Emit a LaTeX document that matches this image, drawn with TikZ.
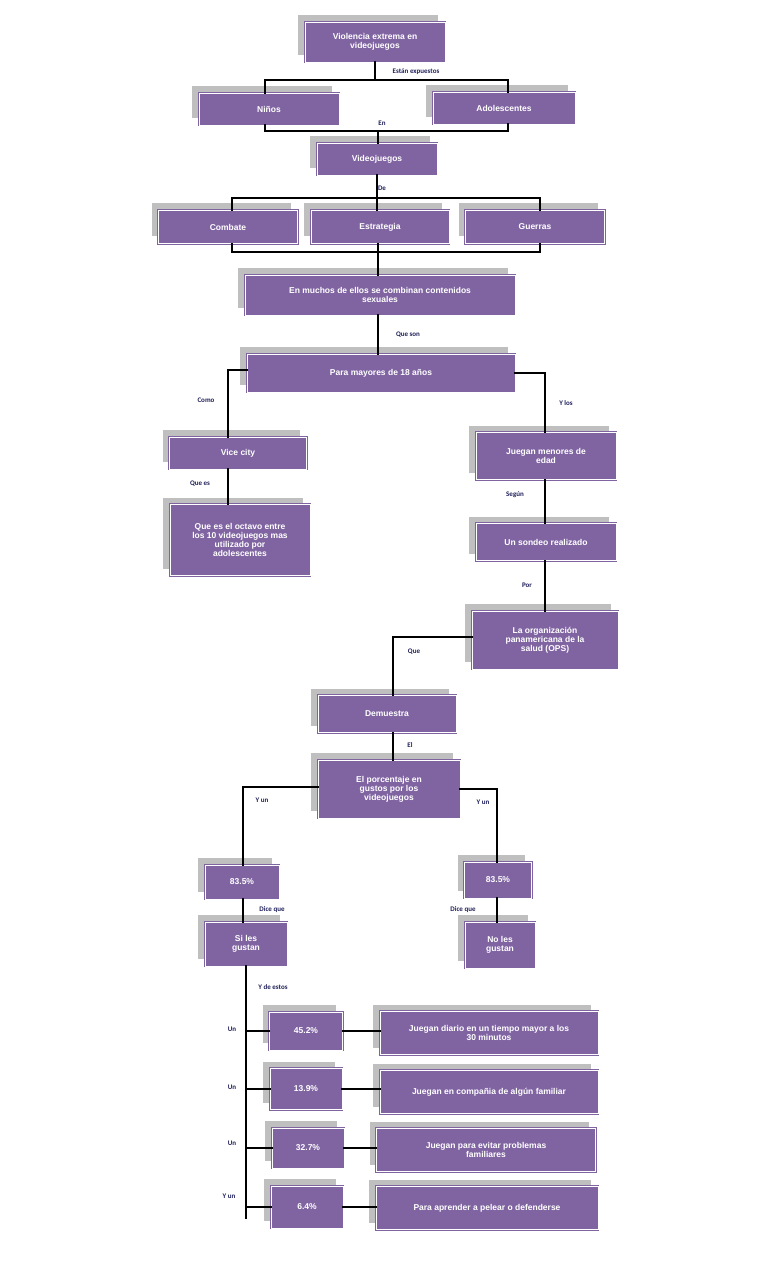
\documentclass[tikz,border=0pt]{standalone}
\usepackage{fontspec}
\setmainfont{Liberation Sans}
\newfontfamily\lblfont{Carlito}
\usetikzlibrary{shadows}
\definecolor{boxfill}{HTML}{8064A2}
\definecolor{lblcol}{HTML}{1F1F5A}
\begin{document}
\begin{tikzpicture}[x=1pt, y=-1pt]
        \tikzstyle{box}=[draw=boxfill, double=white, double distance=0.9pt, line width=0.9pt,
            fill=boxfill, text=white, font=\bfseries\fontsize{8.5}{9}\selectfont, align=center,
            inner sep=2pt, general shadow={fill=black!25, shadow xshift=-7pt, shadow yshift=7pt}]
        \tikzstyle{lbl}=[font=\lblfont\bfseries\fontsize{7}{8}\selectfont, text=lblcol, inner sep=1pt]
        \tikzstyle{link}=[line width=2.6pt, line cap=rect]
        \useasboundingbox (0,0) rectangle (768,1265);

        % boxes
        \node[box, minimum width=140pt, minimum height=40pt] (viol) at (375,42) {Violencia extrema en\\videojuegos};
        \node[box, minimum width=140pt, minimum height=32pt] (ninos) at (269,109) {Niños};
        \node[box, minimum width=142pt, minimum height=32pt] (adol) at (504,108) {Adolescentes};
        \node[box, minimum width=120pt, minimum height=32pt] (video) at (377,159) {Videojuegos};
        \node[box, minimum width=139pt, minimum height=33pt] (combate) at (228,227) {Combate};
        \node[box, minimum width=138pt, minimum height=33pt] (estrat) at (380,227) {Estrategia};
        \node[box, minimum width=139pt, minimum height=33pt] (guerras) at (535,227) {Guerras};
        \node[box, minimum width=270pt, minimum height=40pt] (muchos) at (380,295) {En muchos de ellos se combinan contenidos\\sexuales};
        \node[box, minimum width=268pt, minimum height=38pt] (mayores) at (381,373) {Para mayores de 18 años};
        \node[box, minimum width=137pt, minimum height=32pt] (vice) at (238,453) {Vice city};
        \node[box, minimum width=140pt, minimum height=71pt] (octavo) at (240,540) {Que es el octavo entre\\los 10 videojuegos mas\\utilizado por\\adolescentes};
        \node[box, minimum width=140pt, minimum height=47pt] (menores) at (546,456) {Juegan menores de\\edad};
        \node[box, minimum width=140pt, minimum height=37pt] (sondeo) at (546,542) {Un sondeo realizado};
        \node[box, minimum width=146pt, minimum height=58pt] (ops) at (545,640) {La organización\\panamericana de la\\salud (OPS)};
        \node[box, minimum width=138pt, minimum height=37pt] (demuestra) at (387,714) {Demuestra};
        \node[box, minimum width=142pt, minimum height=58pt] (porcent) at (389,789) {El porcentaje en\\gustos por los\\videojuegos};
        \node[box, minimum width=74pt, minimum height=34pt] (pctL) at (242,882) {83.5\%};
        \node[box, minimum width=82pt, minimum height=44pt] (siles) at (246,944) {Si les\\gustan};
        \node[box, minimum width=67pt, minimum height=36pt] (pctR) at (498,880) {83.5\%};
        \node[box, minimum width=70pt, minimum height=46pt] (noles) at (500,945) {No les\\gustan};
        \node[box, minimum width=73pt, minimum height=38pt] (p45) at (306,1031) {45.2\%};
        \node[box, minimum width=218pt, minimum height=43pt] (j45) at (489,1033) {Juegan diario en un tiempo mayor a los\\30 minutos};
        \node[box, minimum width=72pt, minimum height=41pt] (p13) at (306,1089) {13.9\%};
        \node[box, minimum width=218pt, minimum height=43pt] (j13) at (489,1092) {Juegan en compañia de algún familiar};
        \node[box, minimum width=72pt, minimum height=40pt] (p32) at (308,1148) {32.7\%};
        \node[box, minimum width=219pt, minimum height=43pt] (j32) at (486,1150) {Juegan para evitar problemas\\familiares};
        \node[box, minimum width=72pt, minimum height=42pt] (p6) at (307,1207) {6.4\%};
        \node[box, minimum width=222pt, minimum height=43pt] (j6) at (487,1208) {Para aprender a pelear o defenderse};

        % connectors
        \coordinate (c1) at (375,80);
        \draw[link] (viol.south) -- (c1);
        \draw[link] (ninos.north -| 265,0) |- (c1) -| (adol.north -| 508,0);
        \coordinate (c2) at (378,131);
        \draw[link] (ninos.south -| 265,0) |- (c2) -| (adol.south -| 508,0);
        \draw[link] (c2) -- (video.north -| c2);
        \coordinate (c3) at (377,198);
        \draw[link] (video.south) -- (c3);
        \draw[link] (combate.north -| 232,0) |- (c3) -| (guerras.north -| 540,0);
        \draw[link] (c3) -- (estrat.north -| c3);
        \coordinate (c4) at (378,252);
        \draw[link] (combate.south -| 232,0) |- (c4) -| (guerras.south -| 540,0);
        \draw[link] (estrat.south -| c4) -- (muchos.north -| c4);
        \draw[link] (muchos.south -| c4) -- (mayores.north -| c4);
        \draw[link] (mayores.west |- 0,370) -| (vice.north -| 228,0);
        \draw[link] (mayores.east) -| (menores.north -| 545,0);
        \draw[link] (vice.south -| 228,0) -- (octavo.north -| 228,0);
        \draw[link] (menores.south -| 545,0) -- (sondeo.north -| 545,0);
        \draw[link] (sondeo.south -| 545,0) -- (ops.north -| 545,0);
        \draw[link] (ops.west |- 0,637) -| (demuestra.north -| 393,0);
        \draw[link] (demuestra.south -| 393,0) -- (porcent.north -| 393,0);
        \draw[link] (porcent.west |- 0,787) -| (pctL.north -| 243,0);
        \draw[link] (porcent.east) -| (pctR.north -| 497,0);
        \draw[link] (pctL.south -| 243,0) -- (siles.north -| 243,0);
        \draw[link] (pctR.south -| 497,0) -- (noles.north -| 497,0);
        \coordinate (trunk) at (246,1218);
        \draw[link] (siles.south -| trunk) -- (trunk);
        \foreach \p/\j in {p45/j45, p13/j13, p32/j32, p6/j6} {
            \draw[link] (trunk |- \p.west) -- (\p.west);
            \draw[link] (\p.east) -- (\j.west |- \p.east);
        }

        % labels
        \node[lbl] (l1) at (416,72) {Están expuestos};
        \node[lbl] (l2) at (382,123) {En};
        \node[lbl] (l3) at (382,188) {De};
        \node[lbl] (l4) at (408,335) {Que son};
        \node[lbl] (l5) at (206,400) {Como};
        \node[lbl] (l6) at (566,403) {Y los};
        \node[lbl] (l7) at (200,484) {Que es};
        \node[lbl] (l8) at (515,495) {Según};
        \node[lbl] (l9) at (527,585) {Por};
        \node[lbl] (l10) at (414,652) {Que};
        \node[lbl] (l11) at (410,745) {El};
        \node[lbl] (l12) at (262,800) {Y un};
        \node[lbl] (l13) at (483,802) {Y un};
        \node[lbl] (l14) at (272,910) {Dice que};
        \node[lbl] (l15) at (463,910) {Dice que};
        \node[lbl] (l16) at (273,987) {Y de estos};
        \node[lbl] (l17) at (232,1029) {Un};
        \node[lbl] (l18) at (232,1087) {Un};
        \node[lbl] (l19) at (232,1143) {Un};
        \node[lbl] (l20) at (229,1196) {Y un};
\end{tikzpicture}
\end{document}
